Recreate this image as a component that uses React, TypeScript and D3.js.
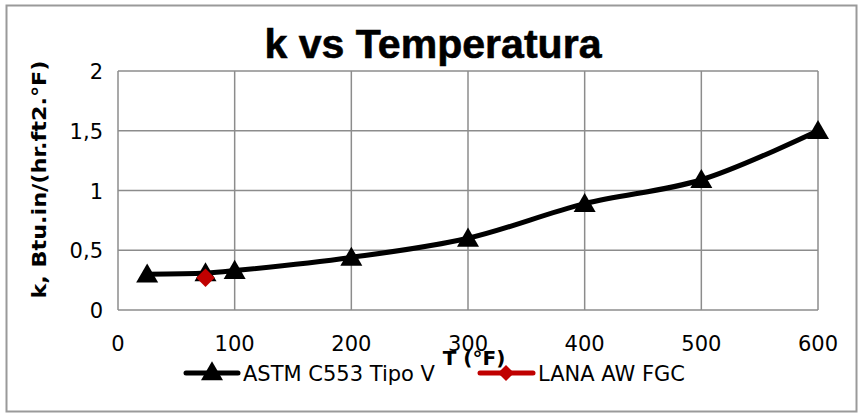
import React from "react";
import * as d3 from "d3";

const title = "k vs Temperatura";
const yLabel = "k, Btu.in/(hr.ft2.°F)";
const xLabel = "T (°F)";
const astmName = "ASTM C553 Tipo V";
const lanaName = "LANA AW FGC";
const astmX = [25, 75, 100, 200, 300, 400, 500, 600];
const astmY = [0.3, 0.31, 0.33, 0.44, 0.6, 0.89, 1.09, 1.5];
const lanaX = [75];
const lanaY = [0.27];
const xTicks = [0, 100, 200, 300, 400, 500, 600];
const yTicks = [0, 0.5, 1, 1.5, 2];
const yTickLabels = ["0", "0,5", "1", "1,5", "2"];

const W = 864, H = 416;
const left = 118, right = 818, top = 71, bottom = 310;

export default function App() {
  const x = d3.scaleLinear().domain([0, 600]).range([left, right]);
  const y = d3.scaleLinear().domain([0, 2]).range([bottom, top]);
  const astm = astmX.map((v, i) => [v, astmY[i]] as [number, number]);
  const lana = lanaX.map((v, i) => [v, lanaY[i]] as [number, number]);
  const line = d3
    .line<[number, number]>()
    .x((d) => x(d[0]))
    .y((d) => y(d[1]))
    .curve(d3.curveCatmullRom.alpha(0.5));
  const tri = d3.symbol().type(d3.symbolTriangle).size(210)();
  const dia = d3.symbol().type(d3.symbolSquare).size(170)();
  const diaLeg = d3.symbol().type(d3.symbolSquare).size(130)();
  const font = "'DejaVu Sans', sans-serif";
  return (
    <svg width={W} height={H} style={{ position: "absolute", left: 0, top: 0 }}>
      <rect x={0} y={0} width={W} height={H} fill="#fff" />
      <rect x={6.5} y={5.5} width={850} height={406} fill="#fff" stroke="#9a9a9a" strokeWidth={2} />
      <text x={433} y={58} textAnchor="middle" fontFamily="'Liberation Sans Narrow', 'Liberation Sans', sans-serif" fontWeight="bold" fontSize={41} textLength={337} lengthAdjust="spacingAndGlyphs" stroke="#000" strokeWidth={0.6}>
        {title}
      </text>
      {xTicks.map((t) => (
        <line key={"gx" + t} x1={x(t)} x2={x(t)} y1={top} y2={bottom} stroke="#8c8c8c" strokeWidth={1.5} />
      ))}
      {yTicks.map((t) => (
        <line key={"gy" + t} x1={left} x2={right} y1={y(t)} y2={y(t)} stroke="#8c8c8c" strokeWidth={1.5} />
      ))}
      {yTicks.map((t, i) => (
        <text key={"ty" + t} x={left - 15} y={y(t) + 8} textAnchor="end" fontFamily={font} fontSize={21} fill="#000">
          {yTickLabels[i]}
        </text>
      ))}
      {xTicks.map((t) => (
        <text key={"tx" + t} x={x(t)} y={351} textAnchor="middle" fontFamily={font} fontSize={21} fill="#000">
          {t}
        </text>
      ))}
      <text transform={`translate(46,${(top + bottom) / 2 - 11}) rotate(-90)`} textAnchor="middle" fontFamily={font} fontWeight="bold" fontSize={20} textLength={238} lengthAdjust="spacingAndGlyphs" fill="#000">
        {yLabel}
      </text>
      <path d={line(astm) || ""} fill="none" stroke="#000" strokeWidth={5} />
      {astm.map((d, i) => (
        <path key={"a" + i} d={tri} transform={`translate(${x(d[0])},${y(d[1]) + 2})`} fill="#000" />
      ))}
      {lana.map((d, i) => (
        <path key={"l" + i} d={dia} transform={`translate(${x(d[0])},${y(d[1])}) rotate(45)`} fill="#c00000" />
      ))}
      {/* legend */}
      <line x1={186} x2={238} y1={373} y2={373} stroke="#000" strokeWidth={5} strokeLinecap="round" />
      <path d={tri} transform="translate(212,374)" fill="#000" />
      <text x={243} y={381} fontFamily={font} fontSize={21} fill="#000">{astmName}</text>
      <line x1={480} x2={533} y1={373} y2={373} stroke="#c00000" strokeWidth={5} strokeLinecap="round" />
      <path d={diaLeg} transform="translate(506,373) rotate(45)" fill="#c00000" />
      <text x={538} y={381} fontFamily={font} fontSize={21} fill="#000">{lanaName}</text>
      <text x={474} y={365} textAnchor="middle" fontFamily={font} fontWeight="bold" fontSize={20} fill="#000">
        {xLabel}
      </text>
    </svg>
  );
}
